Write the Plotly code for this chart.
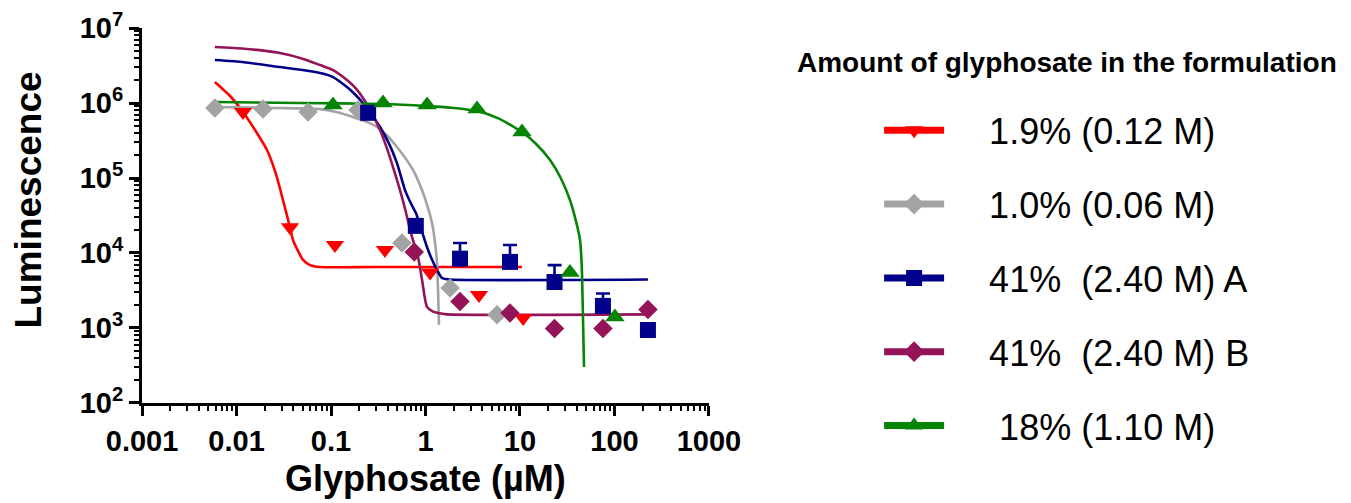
import plotly.graph_objects as go

# ---------------- data ----------------
x_ticks = [0.001, 0.01, 0.1, 1, 10, 100, 1000]
x_ticktext = ["0.001", "0.01", "0.1", "1", "10", "100", "1000"]
y_ticks = [1e2, 1e3, 1e4, 1e5, 1e6, 1e7]
y_ticktext = ["10<sup>2</sup>", "10<sup>3</sup>", "10<sup>4</sup>", "10<sup>5</sup>", "10<sup>6</sup>", "10<sup>7</sup>"]

series_names = ["1.9% (0.12 M)", "1.0% (0.06 M)", "41%\u00a0 (2.40 M) A", "41%\u00a0 (2.40 M) B", "\u00a018% (1.10 M)"]

# measured points
red_x = [0.0117, 0.0368, 0.110, 0.372, 1.12, 3.68, 10.8]
red_y = [7.6e5, 2.2e4, 1.28e4, 1.1e4, 5.5e3, 2.75e3, 1.36e3]

gray_x = [0.0059, 0.0191, 0.0572, 0.193, 0.563, 1.82, 5.71]
gray_y = [8.6e5, 8.3e5, 7.6e5, 8.1e5, 1.36e4, 3.4e3, 1.5e3]

blue_x = [0.247, 0.79, 2.32, 7.84, 23.2, 75.5, 226]
blue_y = [7.4e5, 2.3e4, 8.4e3, 7.6e3, 4.1e3, 1.97e3, 940]
blue_err = [0, 0, 5.2e3, 5.2e3, 2.8e3, 910, 0]

purple_x = [0.76, 2.32, 7.84, 23.2, 75.5, 226]
purple_y = [1.03e4, 2.26e3, 1.58e3, 985, 985, 1.76e3]

green_x = [0.105, 0.355, 1.04, 3.51, 10.5, 33.8, 101]
green_y = [9.4e5, 1.0e6, 9.4e5, 8.3e5, 4.1e5, 5.5e3, 1.4e3]

# fitted curves
red_fit_x = [0.0059, 0.0085, 0.0117, 0.016, 0.021, 0.026, 0.031, 0.0368, 0.0396, 0.045, 0.0506, 0.06, 0.0766, 0.3, 10.5]
red_fit_y = [1.91e6, 1.25e6, 7.6e5, 4.2e5, 2.36e5, 1.15e5, 5.09e4, 2.2e4, 1.49e4, 1.05e4, 8.07e3, 6.9e3, 6.5e3, 6.5e3, 6.5e3]

gray_fit_x = [0.0059, 0.025, 0.0766, 0.12, 0.171, 0.24, 0.307, 0.4, 0.499, 0.62, 0.738, 0.918, 1.05, 1.172, 1.26, 1.324, 1.39]
gray_fit_y = [8.85e5, 8.6e5, 8.3e5, 7.5e5, 6.5e5, 5.6e5, 4.79e5, 3.6e5, 2.59e5, 1.8e5, 1.28e5, 6.9e4, 4.2e4, 2.51e4, 1.4e4, 7.36e3, 1.1e3]

blue_fit_x = [0.0059, 0.012, 0.0288, 0.05, 0.0766, 0.105, 0.1475, 0.18, 0.218, 0.27, 0.330, 0.41, 0.499, 0.607, 0.70, 0.792, 0.91, 1.037, 1.18, 1.324, 1.495, 1.82, 226]
blue_fit_y = [3.74e6, 3.5e6, 3.02e6, 2.75e6, 2.51e6, 2.22e6, 1.63e6, 1.3e6, 1.0e6, 7.0e5, 4.79e5, 2.9e5, 1.58e5, 6.9e4, 4.6e4, 3.41e4, 2.0e4, 1.2e4, 8.0e3, 5.93e3, 4.64e3, 4.43e3, 4.43e3]

purple_fit_x = [0.0059, 0.012, 0.0288, 0.05, 0.0766, 0.105, 0.1475, 0.18, 0.218, 0.27, 0.330, 0.39, 0.453, 0.537, 0.61, 0.686, 0.76, 0.834, 0.918, 1.037, 1.2, 1.357, 1.69, 226]
purple_fit_y = [5.58e6, 5.3e6, 4.64e6, 3.9e6, 3.21e6, 2.75e6, 2.03e6, 1.6e6, 1.17e6, 7.4e5, 4.37e5, 2.5e5, 1.40e5, 6.9e4, 3.8e4, 2.03e4, 1.3e4, 8.85e3, 4.43e3, 1.91e3, 1.65e3, 1.58e3, 1.52e3, 1.52e3]

green_fit_x = [0.0059, 0.047, 0.355, 1.037, 2.0, 3.51, 6.0, 10.5, 15.0, 20.8, 27.0, 33.8, 39.0, 43.2, 45.0, 46, 47.6]
green_fit_y = [1.03e6, 1.0e6, 9.7e5, 9.1e5, 8.6e5, 7.8e5, 6.2e5, 4.1e5, 2.8e5, 1.74e5, 1.0e5, 5.09e4, 2.7e4, 1.49e4, 7.0e3, 2.36e3, 302]

# ---------------- styling ----------------
RED = "#FF0000"
GRAY = "#A3A3A3"
BLUE = "#00008A"
PURPLE = "#941458"
GREEN = "#068406"
FONT = "Liberation Sans, Arial, sans-serif"

fig = go.Figure()

curves = [
    (red_fit_x, red_fit_y, RED),
    (gray_fit_x, gray_fit_y, GRAY),
    (blue_fit_x, blue_fit_y, BLUE),
    (purple_fit_x, purple_fit_y, PURPLE),
    (green_fit_x, green_fit_y, GREEN),
]
for cx, cy, col in curves:
    fig.add_trace(go.Scatter(x=cx, y=cy, mode="lines",
                             line=dict(color=col, width=2.6, shape="spline", smoothing=0.6),
                             showlegend=False, hoverinfo="skip"))

# points
fig.add_trace(go.Scatter(x=red_x, y=red_y, mode="markers",
                         marker=dict(symbol="triangle-down", size=16, color=RED), showlegend=False))
fig.add_trace(go.Scatter(x=gray_x, y=gray_y, mode="markers",
                         marker=dict(symbol="diamond", size=15, color=GRAY), showlegend=False))
fig.add_trace(go.Scatter(x=purple_x, y=purple_y, mode="markers",
                         marker=dict(symbol="diamond", size=15, color=PURPLE), showlegend=False))
fig.add_trace(go.Scatter(x=blue_x, y=blue_y, mode="markers",
                         marker=dict(symbol="square", size=16, color=BLUE),
                         error_y=dict(type="data", symmetric=False, array=blue_err,
                                      arrayminus=[0] * len(blue_err), color=BLUE,
                                      thickness=2.6, width=7),
                         showlegend=False))
fig.add_trace(go.Scatter(x=green_x, y=green_y, mode="markers",
                         marker=dict(symbol="triangle-up", size=17, color=GREEN), showlegend=False))

# legend proxies
legend_specs = [
    ("triangle-down", RED),
    ("diamond", GRAY),
    ("square", BLUE),
    ("diamond", PURPLE),
    ("triangle-up", GREEN),
]
for i, (sym, col) in enumerate(legend_specs):
    fig.add_trace(go.Scatter(x=[None], y=[None], mode="lines+markers",
                             name="\u00a0\u00a0\u00a0\u00a0" + series_names[i],
                             legendgroup="g%d" % i,
                             line=dict(color=col, width=7),
                             marker=dict(symbol=sym, size=16, color=col)))

axis_common = dict(
    type="log", showline=True, linecolor="black", linewidth=3, mirror=False,
    ticks="outside", ticklen=10, tickwidth=3, tickcolor="black",
    showgrid=False, zeroline=False, automargin=False,
    tickfont=dict(family=FONT, size=29, color="black", weight="bold"),
    tickmode="array",
)

fig.update_xaxes(**axis_common, range=[-3.0005, 3.0005], tickvals=x_ticks, ticktext=x_ticktext,
                 minor=dict(ticks="outside", ticklen=5, tickwidth=2, tickcolor="black",
                            tickmode="array",
                            tickvals=[m * 10.0 ** e for e in range(-3, 3) for m in range(2, 10)]))
fig.update_yaxes(**axis_common, range=[1.9995, 7.0005], tickvals=y_ticks, ticktext=y_ticktext,
                 minor=dict(ticks="outside", ticklen=5, tickwidth=2, tickcolor="black",
                            tickmode="array",
                            tickvals=[m * 10.0 ** e for e in range(2, 7) for m in range(2, 10)]))

fig.update_layout(
    width=1343, height=495,
    margin=dict(l=134, r=642, t=20, b=100, autoexpand=False),
    paper_bgcolor="white", plot_bgcolor="white",
    font=dict(family=FONT, color="black"),
    legend=dict(x=1.30, y=0.807, xanchor="left", yanchor="top",
                font=dict(family=FONT, size=36, color="black"),
                tracegroupgap=24, itemwidth=60, bgcolor="rgba(0,0,0,0)"),
    annotations=[
        dict(text="<b>Luminescence</b>", xref="paper", yref="paper", x=0, y=0.5,
             xshift=-114, yshift=15, textangle=-90, showarrow=False,
             font=dict(family=FONT, size=37, color="black"), xanchor="center", yanchor="middle"),
        dict(text="<b>Glyphosate (µM)</b>", xref="paper", yref="paper", x=0.5, y=0,
             yshift=-75, showarrow=False,
             font=dict(family=FONT, size=36, color="black"), xanchor="center", yanchor="middle"),
        dict(text="<b>Amount of glyphosate in the formulation</b>", xref="paper", yref="paper",
             x=1, y=1, xshift=86, yshift=-34, showarrow=False,
             font=dict(family=FONT, size=28, color="black"), xanchor="left", yanchor="middle"),
    ],
)

fig.write_html("out.html")
